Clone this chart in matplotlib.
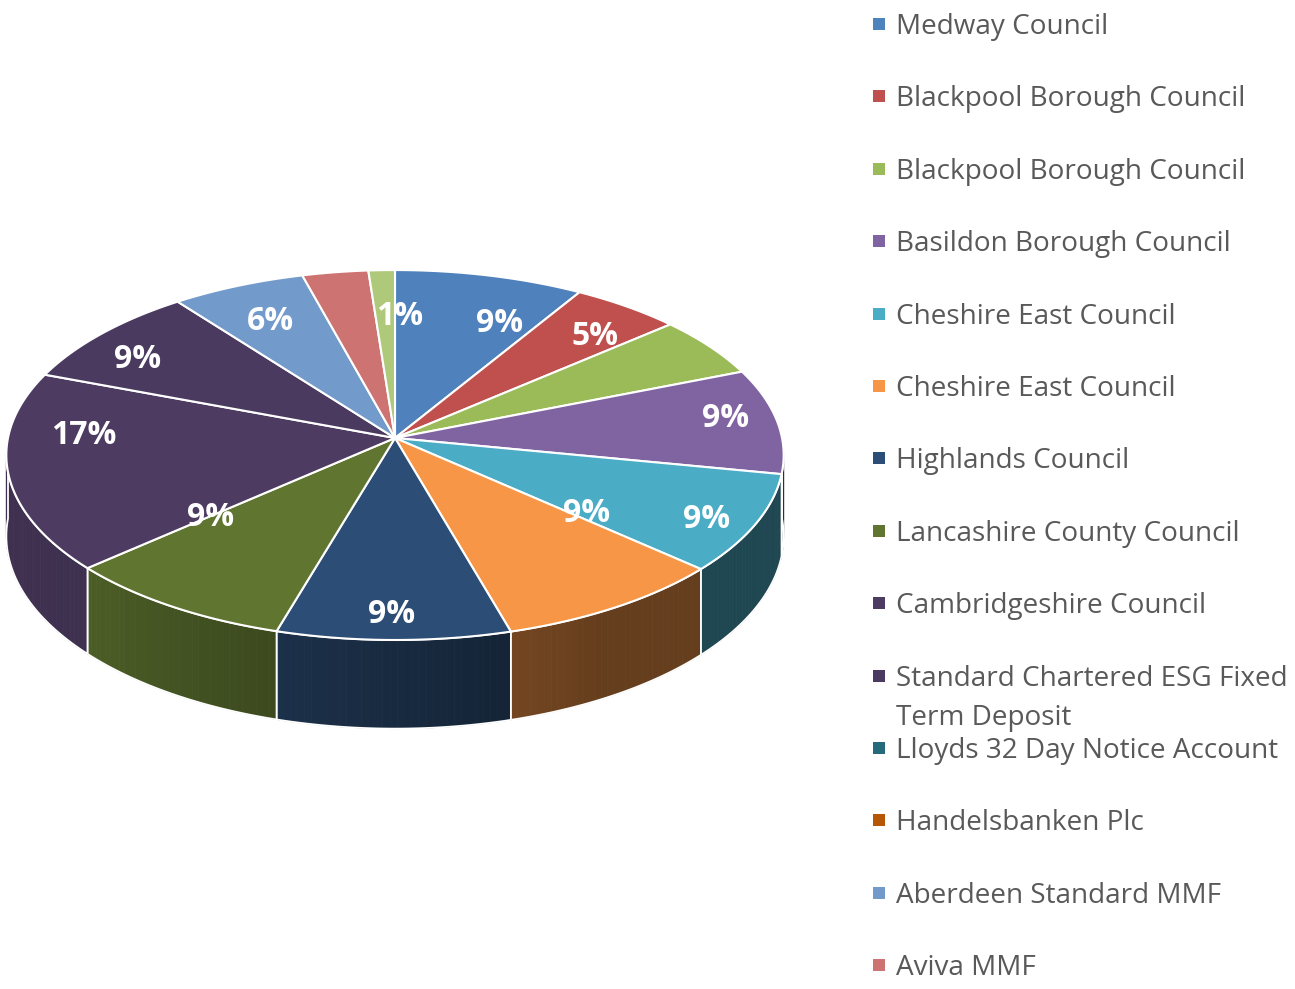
import numpy as np
import matplotlib.pyplot as plt
from matplotlib.patches import Polygon, Rectangle
from matplotlib.colors import to_rgb

# holdings, in legend order (last slice has no visible legend entry)
names = ["Medway Council", "Blackpool Borough Council", "Blackpool Borough Council",
         "Basildon Borough Council", "Cheshire East Council", "Cheshire East Council",
         "Highlands Council", "Lancashire County Council", "Cambridgeshire Council",
         "Standard Chartered ESG Fixed\nTerm Deposit", "Lloyds 32 Day Notice Account",
         "Handelsbanken Plc", "Aberdeen Standard MMF", "Aviva MMF", ""]
# share of portfolio [%]
shares = [8.6, 5.0, 5.3, 9.2, 8.6, 8.9, 8.9, 8.9, 17.4, 8.9, 0.0, 0.0, 6.1, 3.0, 1.2]
show_label = [True, True, False, True, True, True, True, True, True, True,
              False, False, True, False, True]
colors = ["#4F81BD", "#C0504D", "#9BBB59", "#8064A2", "#4BACC6", "#F79646",
          "#2C4D75", "#5F7530", "#4D3B62", "#4B3A60", "#276A7C", "#B65708",
          "#729ACA", "#CD7371", "#AFC97A"]

# pie geometry (pixels) and perspective
cx, cy = 395, 438
R, S, k, D = 387, 183.4, 0.092, 80.5

def proj(t, r=1.0, z=0.0):
    w = 1 + k * r * np.sin(t)
    return cx + r * R * np.cos(t) / w, cy - r * S * np.sin(t) / w + z * D / w

# wall shading against angle
shade_t = np.radians([-180, -140, -107, -75, -60, 0])
shade_f = [0.82, 0.81, 0.63, 0.47, 0.41, 0.41]

fig = plt.figure(figsize=(12.95, 9.89), dpi=100)
ax = fig.add_axes([0, 0, 1, 1])
ax.set_xlim(0, 1295)
ax.set_ylim(989, 0)
ax.axis('off')

vals = np.array(shares, dtype=float)
frac = vals / vals.sum()
cum = np.concatenate([[0], np.cumsum(frac)])
t_start = np.pi / 2 - 2 * np.pi * cum[:-1]
t_end = np.pi / 2 - 2 * np.pi * cum[1:]

# side walls (front half only)
for i in range(len(vals)):
    if frac[i] == 0:
        continue
    a, b = min(t_start[i], 0), max(t_end[i], -np.pi)
    if a <= b:
        continue
    ts = np.linspace(a, b, max(3, int(np.degrees(a - b)) + 2))
    base = np.array(to_rgb(colors[i]))
    for ta, tb in zip(ts[:-1], ts[1:]):
        f = np.interp((ta + tb) / 2, shade_t, shade_f)
        c = tuple(base * f)
        pts = [proj(ta), proj(tb), proj(tb, z=1), proj(ta, z=1)]
        ax.add_patch(Polygon(pts, closed=True, facecolor=c, edgecolor=c, lw=0.6))
    outline = [proj(t) for t in ts] + [proj(t, z=1) for t in ts[::-1]]
    ax.add_patch(Polygon(outline, closed=True, facecolor='none', edgecolor='white', lw=1.3))

# top face
for i in range(len(vals)):
    if frac[i] == 0:
        continue
    ts = np.linspace(t_start[i], t_end[i], max(3, int(np.degrees(t_start[i] - t_end[i]) * 2)))
    pts = [(cx, cy)] + [proj(t) for t in ts]
    ax.add_patch(Polygon(pts, closed=True, facecolor=colors[i], edgecolor='white', lw=1.5))

# data labels, nudged the way the spreadsheet placed them
label_shift = [(27, 18), (12, 5), (0, 0), (24, -6), (25, 13), (17, -57), (-2, 18),
               (-8, -53), (-3, -29), (-20, 6), (0, 0), (0, 0), (3, 7), (0, 0), (15, 15)]
for i in range(len(vals)):
    if not show_label[i]:
        continue
    tm = (t_start[i] + t_end[i]) / 2
    x, y = proj(tm, r=0.8)
    dx, dy = label_shift[i]
    ax.text(x + dx, y + dy, f"{round(shares[i])}%", color='white', fontsize=23,
            fontweight='bold', family='Open Sans', ha='center', va='center')

# legend
for i, name in enumerate(names):
    if not name:
        continue
    y = 24 + 72.4 * i
    ax.add_patch(Rectangle((873, y - 6), 12, 12, facecolor=colors[i], edgecolor='none'))
    for j, line in enumerate(name.split("\n")):
        ax.text(896, y + 3 + 39 * j, line, color='#595959', fontsize=20.1,
                family='Open Sans', ha='left', va='center')

fig.savefig('out.png', dpi=100)
